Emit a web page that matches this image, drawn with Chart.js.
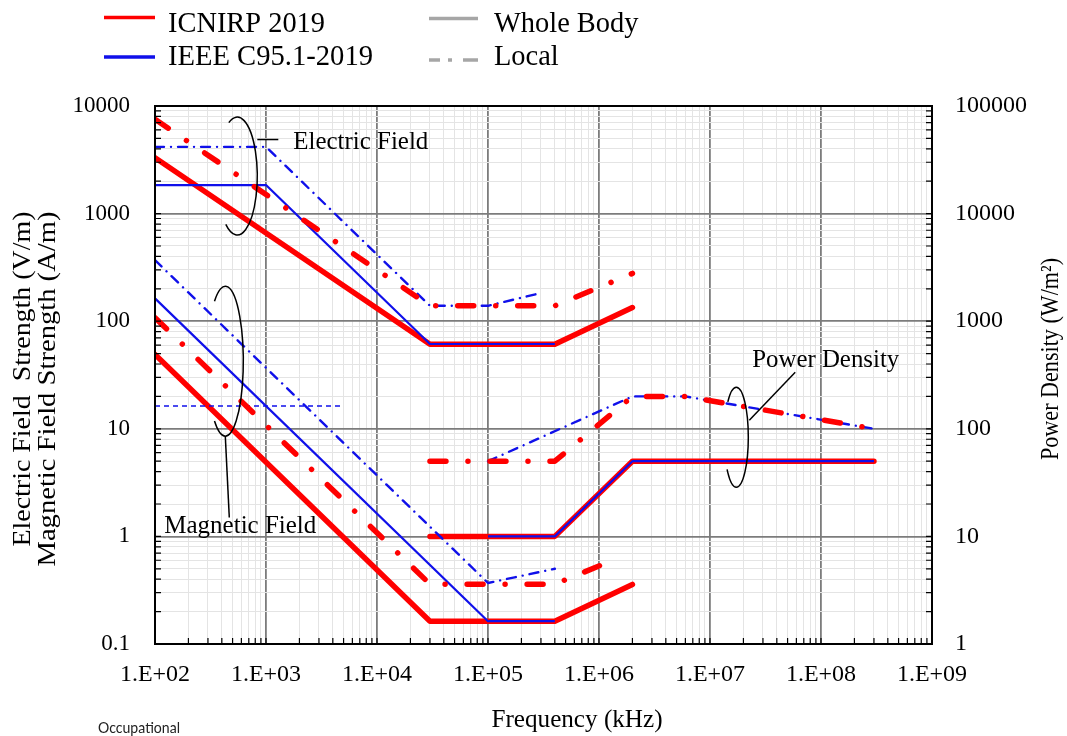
<!DOCTYPE html>
<html>
<head>
<meta charset="utf-8">
<script src="https://cdn.jsdelivr.net/npm/chart.js@4/dist/chart.umd.min.js"></script>
<style>
  html, body { margin: 0; padding: 0; background: #fff; }
  canvas { display: block; }
</style>
</head>
<body>
<canvas id="c" width="1067" height="736"></canvas>
<script>
// ---- tick labels ----
const freqTickLabels  = ['1.E+02', '1.E+03', '1.E+04', '1.E+05', '1.E+06', '1.E+07', '1.E+08', '1.E+09'];
const fieldTickLabels = ['0.1', '1', '10', '100', '1000', '10000'];
const powerTickLabels = ['1', '10', '100', '1000', '10000', '100000'];

// ---- frequency breakpoints (kHz) and limits ----
// ICNIRP 2019, electric field (V/m)
const icnirpWbE_f  = [1e2, 3e4, 4e5, 2e6];
const icnirpWbE_v  = [3308, 61, 61, 134];
const icnirpLocE_f = [1e2, 3e4, 4e5, 2e6];
const icnirpLocE_v = [7539, 139, 139, 278];
// IEEE C95.1-2019, electric field (V/m)
const ieeeWbE_f  = [1e2, 1e3, 3e4, 4e5];
const ieeeWbE_v  = [1842, 1842, 61.4, 61.4];
const ieeeLocE_f = [1e2, 1e3, 3e4, 1e5, 3e5];
const ieeeLocE_v = [4170, 4170, 139, 139, 183];
// ICNIRP 2019, magnetic field (A/m)
const icnirpWbH_f  = [1e2, 3e4, 4e5, 2e6];
const icnirpWbH_v  = [49, 0.163, 0.163, 0.358];
const icnirpLocH_f = [1e2, 3e4, 4e5, 1.5e6];
const icnirpLocH_v = [108, 0.36, 0.36, 0.63];
// IEEE C95.1-2019, magnetic field (A/m)
const ieeeWbH_f  = [1e2, 1e5, 4e5];
const ieeeWbH_v  = [163, 0.163, 0.163];
const ieeeLocH_f = [1e2, 1e5, 4e5];
const ieeeLocH_v = [369, 0.369, 0.5];
const ieeeLowH_f = [1e2, 4.7e3];
const ieeeLowH_v = [16.3, 16.3];
// power density (W/m2), right axis
const icnirpWbS_f  = [3e4, 4e5, 2e6, 3e8];
const icnirpWbS_v  = [10, 10, 50, 50];
const ieeeWbS_f    = [1e5, 4e5, 2e6, 3e8];
const ieeeWbS_v    = [10, 10, 50, 50];
const icnirpLocS_f = [3e4, 4e5, 2e6, 6e6, 3e8];
const icnirpLocS_v = [50, 50, 200, 200, 100];
const ieeeLocS_f   = [1e5, 2e6, 6e6, 3e8];
const ieeeLocS_v   = [50, 200, 200, 100];

// ---- styles ----
const RED = '#ff0000';
const BLUE = '#1010ea';
const SERIF = '"Liberation Serif", "Times New Roman", serif';

const redSolid   = { borderColor: RED,  borderWidth: 5.5, borderCapStyle: 'round', order: 40 };
const blueSolid  = { borderColor: BLUE, borderWidth: 2.2, borderCapStyle: 'butt',  order: 30 };
const blueDashDot= { borderColor: BLUE, borderWidth: 2.4, borderCapStyle: 'round', borderDash: [9, 7, 0.01, 7], order: 20 };
const redDashDot = { borderColor: RED,  borderWidth: 5.5, borderCapStyle: 'round', borderDash: [16, 22, 0.01, 22], order: 10 };
const blueShort  = { borderColor: BLUE, borderWidth: 1.5, borderCapStyle: 'butt',  borderDash: [5, 4], order: 25 };

const pts = (f, v) => f.map((x, i) => ({ x, y: v[i] }));
function series(label, f, v, axis, style) {
  return Object.assign({
    label, data: pts(f, v), yAxisID: axis,
    pointRadius: 0, pointHoverRadius: 0, tension: 0, fill: false, borderJoinStyle: 'round'
  }, style);
}

const datasets = [
  series('ICNIRP E whole body', icnirpWbE_f, icnirpWbE_v, 'y', redSolid),
  series('ICNIRP H whole body', icnirpWbH_f, icnirpWbH_v, 'y', redSolid),
  series('ICNIRP S whole body', icnirpWbS_f, icnirpWbS_v, 'y2', redSolid),
  series('IEEE E whole body', ieeeWbE_f, ieeeWbE_v, 'y', blueSolid),
  series('IEEE H whole body', ieeeWbH_f, ieeeWbH_v, 'y', blueSolid),
  series('IEEE S whole body', ieeeWbS_f, ieeeWbS_v, 'y2', blueSolid),
  series('IEEE H low', ieeeLowH_f, ieeeLowH_v, 'y', blueShort),
  series('IEEE E local', ieeeLocE_f, ieeeLocE_v, 'y', blueDashDot),
  series('IEEE H local', ieeeLocH_f, ieeeLocH_v, 'y', blueDashDot),
  series('IEEE S local', ieeeLocS_f, ieeeLocS_v, 'y2', blueDashDot),
  series('ICNIRP E local', icnirpLocE_f, icnirpLocE_v, 'y', redDashDot),
  series('ICNIRP H local', icnirpLocH_f, icnirpLocH_v, 'y', redDashDot),
  series('ICNIRP S local', icnirpLocS_f, icnirpLocS_v, 'y2', redDashDot),
];

// ---- log tick helpers ----
function logTicks(min, max) {
  const t = [];
  const e0 = Math.round(Math.log10(min)), e1 = Math.round(Math.log10(max));
  for (let e = e0; e < e1; e++) {
    for (let d = 1; d < 10; d++) t.push({ value: d * Math.pow(10, e) });
  }
  t.push({ value: max });
  return t;
}
function isDecade(v) {
  const l = Math.log10(v);
  return Math.abs(l - Math.round(l)) < 1e-6;
}
function decadeLabel(labels, min) {
  const e0 = Math.round(Math.log10(min));
  return (v) => isDecade(v) ? labels[Math.round(Math.log10(v)) - e0] : '';
}
const gridStyle = {
  color: (c) => (c.tick && isDecade(c.tick.value)) ? '#7c7c7c' : '#e4e4e4',
  lineWidth: (c) => (c.tick && isDecade(c.tick.value)) ? 1.8 : 1,
  drawTicks: false
};

// ---- annotation layout (anchored in data coordinates) ----
const ellipses = [
  { x: 551,    y: 2233, axis: 'y',  rx: 20, ry: 59, a0: -115, a1: 125 },
  { x: 430,    y: 42.5, axis: 'y',  rx: 18, ry: 75, a0: -127, a1: 127 },
  { x: 1.726e7, y: 83.4, axis: 'y2', rx: 12, ry: 50, a0: -135, a1: 140 },
];
const leaders = [
  { axis: 'y',  p: [[835, 4880], [1291, 4880]] },
  { axis: 'y',  p: [[430, 8.51], [467, 1.50]] },
  { axis: 'y2', p: [[2.26e7, 120], [5.86e7, 336]] },
];
const notes = [
  { text: 'Electric Field', x: 1762,   y: 3981,  axis: 'y',  w: 135 },
  { text: 'Magnetic Field', x: 121.3,  y: 1.067, axis: 'y',  w: 152 },
  { text: 'Power Density',  x: 2.40e7, y: 373,   axis: 'y2', w: 147 },
];

function drawText(ctx, text, x, y, opt) {
  ctx.save();
  ctx.font = (opt.size || 24) + 'px ' + (opt.family || SERIF);
  ctx.fillStyle = opt.color || '#000';
  ctx.textBaseline = 'alphabetic';
  ctx.textAlign = 'left';
  ctx.translate(x, y);
  if (opt.rotate) ctx.rotate(opt.rotate);
  const w = ctx.measureText(text).width;
  const sx = opt.width ? opt.width / w : (opt.sx || 1);
  ctx.scale(sx, 1);
  ctx.fillText(text, opt.center ? -w / 2 : 0, 0);
  ctx.restore();
}

const decor = {
  id: 'decor',
  afterDraw(chart) {
    const ctx = chart.ctx;
    const a = chart.chartArea;
    const sx = chart.scales.x, sy = chart.scales.y, sy2 = chart.scales.y2;

    // inner tick marks
    ctx.save();
    ctx.strokeStyle = '#000';
    ctx.lineWidth = 1.2;
    ctx.beginPath();
    sx.ticks.forEach(t => { const p = sx.getPixelForValue(t.value); ctx.moveTo(p, a.bottom); ctx.lineTo(p, a.bottom - 6); });
    sy.ticks.forEach(t => { const p = sy.getPixelForValue(t.value); ctx.moveTo(a.left, p); ctx.lineTo(a.left + 6, p); });
    sy2.ticks.forEach(t => { const p = sy2.getPixelForValue(t.value); ctx.moveTo(a.right, p); ctx.lineTo(a.right - 6, p); });
    ctx.stroke();
    // frame
    ctx.lineWidth = 2;
    ctx.strokeRect(a.left, a.top, a.right - a.left, a.bottom - a.top);
    ctx.restore();

    // ellipses, leaders, notes
    ctx.save();
    ctx.strokeStyle = '#000';
    ctx.lineWidth = 1.5;
    ellipses.forEach(e => {
      const ys = chart.scales[e.axis];
      ctx.beginPath();
      ctx.ellipse(sx.getPixelForValue(e.x), ys.getPixelForValue(e.y), e.rx, e.ry, 0,
                  e.a0 * Math.PI / 180, e.a1 * Math.PI / 180);
      ctx.stroke();
    });
    leaders.forEach(l => {
      const ys = chart.scales[l.axis];
      ctx.beginPath();
      ctx.moveTo(sx.getPixelForValue(l.p[0][0]), ys.getPixelForValue(l.p[0][1]));
      ctx.lineTo(sx.getPixelForValue(l.p[1][0]), ys.getPixelForValue(l.p[1][1]));
      ctx.stroke();
    });
    ctx.restore();
    notes.forEach(n => {
      const ys = chart.scales[n.axis];
      drawText(ctx, n.text, sx.getPixelForValue(n.x), ys.getPixelForValue(n.y), { size: 26, width: n.w });
    });

    // legend
    ctx.save();
    ctx.lineWidth = 3.3;
    ctx.strokeStyle = RED;
    ctx.beginPath(); ctx.moveTo(104, 17.5); ctx.lineTo(155, 17.5); ctx.stroke();
    ctx.strokeStyle = BLUE;
    ctx.beginPath(); ctx.moveTo(104, 57); ctx.lineTo(155, 57); ctx.stroke();
    ctx.strokeStyle = '#a6a6a6';
    ctx.beginPath(); ctx.moveTo(429, 18.5); ctx.lineTo(478, 18.5); ctx.stroke();
    ctx.beginPath();
    ctx.moveTo(429, 60); ctx.lineTo(440, 60);
    ctx.moveTo(448, 60); ctx.lineTo(452, 60);
    ctx.moveTo(463, 60); ctx.lineTo(478, 60);
    ctx.stroke();
    ctx.restore();
    drawText(ctx, 'ICNIRP 2019', 168, 32, { size: 29, width: 157 });
    drawText(ctx, 'IEEE C95.1-2019', 168, 65, { size: 29, width: 205 });
    drawText(ctx, 'Whole Body', 494, 32, { size: 29, sx: 0.98 });
    drawText(ctx, 'Local', 494, 65, { size: 29, sx: 0.98 });

    // axis titles
    drawText(ctx, 'Electric Field  Strength (V/m)', 30, 379, { size: 25, width: 335, rotate: -Math.PI / 2, center: true });
    drawText(ctx, 'Magnetic Field Strength (A/m)', 55, 389, { size: 25, width: 355, rotate: -Math.PI / 2, center: true });
    drawText(ctx, 'Power Density (W/m\u00B2)', 1058, 359, { size: 25, width: 202, rotate: -Math.PI / 2, center: true });
    drawText(ctx, 'Frequency (kHz)', 577, 727, { size: 25, width: 171, center: true });
    drawText(ctx, 'Occupational', 98, 733, { size: 15, width: 82, family: 'Lato, "Open Sans", sans-serif', color: '#222' });
  }
};

new Chart(document.getElementById('c'), {
  type: 'line',
  data: { datasets },
  options: {
    responsive: false,
    animation: false,
    events: [],
    layout: { padding: { top: 106, left: 0, right: 0, bottom: 0 } },
    plugins: { legend: { display: false }, tooltip: { enabled: false } },
    scales: {
      x: {
        type: 'logarithmic', position: 'bottom', min: 1e2, max: 1e9,
        afterBuildTicks: (s) => { s.ticks = logTicks(1e2, 1e9); },
        afterFit: (s) => { s.height = 92; },
        grid: gridStyle,
        border: { display: true, color: '#000', width: 2 },
        ticks: {
          autoSkip: false, maxRotation: 0, minRotation: 0, padding: 16, color: '#000',
          font: { family: SERIF, size: 24 },
          callback: decadeLabel(freqTickLabels, 1e2)
        }
      },
      y: {
        type: 'logarithmic', position: 'left', min: 0.1, max: 1e4,
        afterBuildTicks: (s) => { s.ticks = logTicks(0.1, 1e4); },
        afterFit: (s) => { s.width = 155; },
        grid: gridStyle,
        border: { display: true, color: '#000', width: 2 },
        ticks: {
          autoSkip: false, padding: 25, color: '#000',
          font: { family: SERIF, size: 23 },
          callback: decadeLabel(fieldTickLabels, 0.1)
        }
      },
      y2: {
        type: 'logarithmic', position: 'right', min: 1, max: 1e5,
        afterBuildTicks: (s) => { s.ticks = logTicks(1, 1e5); },
        afterFit: (s) => { s.width = 135; },
        grid: { drawOnChartArea: false, drawTicks: false },
        border: { display: true, color: '#000', width: 2 },
        ticks: {
          autoSkip: false, padding: 23, color: '#000',
          font: { family: SERIF, size: 24 },
          callback: decadeLabel(powerTickLabels, 1)
        }
      }
    }
  },
  plugins: [decor]
});
</script>
</body>
</html>
